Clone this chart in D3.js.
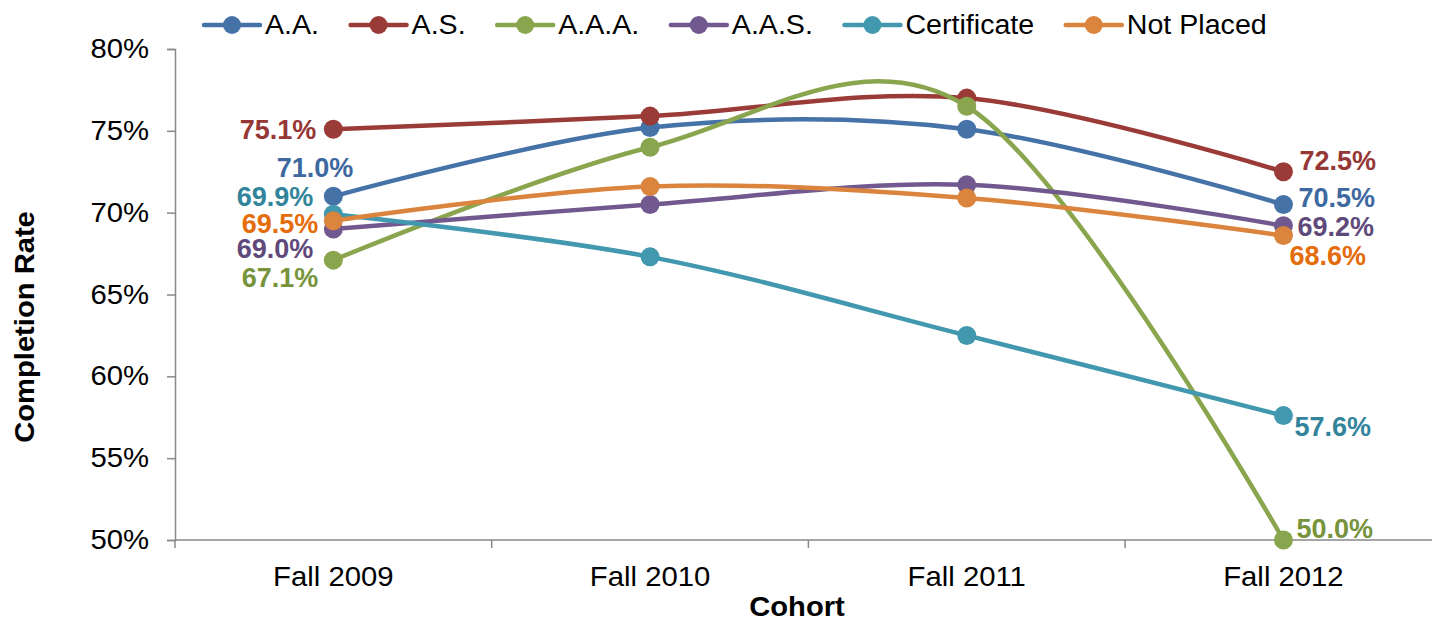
<!DOCTYPE html>
<html>
<head>
<meta charset="utf-8">
<script src="https://cdn.jsdelivr.net/npm/d3@7"></script>
<style>
  body { margin: 0; background: #fff; }
  text { font-family: Arial, "Liberation Sans", sans-serif; }
</style>
</head>
<body>
<div id="chart"></div>
<script>
// data
const cohorts = ['Fall 2009', 'Fall 2010', 'Fall 2011', 'Fall 2012'];
const seriesNames = ['A.A.', 'A.S.', 'A.A.A.', 'A.A.S.', 'Certificate', 'Not Placed'];
const aa = [71.0, 75.2, 75.1, 70.5];
const as = [75.1, 75.9, 77.0, 72.5];
const aaa = [67.1, 74.0, 76.5, 50.0];
const aas = [69.0, 70.5, 71.7, 69.2];
const certificate = [69.9, 67.3, 62.5, 57.6];
const notPlaced = [69.5, 71.6, 70.9, 68.6];
const yTicks = [50, 55, 60, 65, 70, 75, 80];

const values = [aa, as, aaa, aas, certificate, notPlaced];
const lineColors = ['#4572A7', '#9A3B38', '#89A54E', '#71588F', '#4198AF', '#DB843D'];
const labelColors = ['#3D68A0', '#953735', '#77933C', '#5F497A', '#31849B', '#E46C0A'];

// label offsets for first / last point [dx, dy, anchor]
const firstLab = [[20, -29, 'end'], [-17, 0, 'end'], [-15, 17, 'end'], [-20, 19, 'end'], [-20, -18, 'end'], [-15, 2, 'end']];
const lastLab = [[15, -7, 'start'], [16, -11, 'start'], [13, -12, 'start'], [14, 1, 'start'], [11, 11, 'start'], [6, 20, 'start']];

const W = 1432, H = 621;
const m = { left: 175, top: 49, bottom: 81 };
const band = 316.7;
const k = 1.085; // text in the original is a bit wider than Arial

const svg = d3.select('#chart').append('svg')
  .attr('width', W).attr('height', H);

// widen a text horizontally around its anchor x
function stretch(sel, f) {
  sel.each(function () {
    const t = d3.select(this);
    const x0 = +t.attr('x') || 0;
    const prev = t.attr('transform') || '';
    t.attr('transform', `${prev} translate(${x0},0) scale(${f},1) translate(${-x0},0)`);
  });
}

const x = d3.scaleBand().domain(cohorts).range([m.left, m.left + band * cohorts.length]);
const y = d3.scaleLinear().domain([50, 80]).range([H - m.bottom, m.top]);
const cx = d => x(d) + x.bandwidth() / 2;
const axisColor = '#898989';

// y axis
const yAxis = svg.append('g')
  .attr('transform', `translate(${m.left},0)`)
  .call(d3.axisLeft(y).tickValues(yTicks).tickFormat(d => d + '%').tickSize(8).tickPadding(18));
yAxis.select('.domain').attr('stroke', axisColor).attr('stroke-width', 1.5);
yAxis.selectAll('.tick line').attr('stroke', axisColor).attr('stroke-width', 1.5);
yAxis.selectAll('.tick text').attr('fill', '#000').style('font-size', '27px')
  .style('font-family', 'Arial, "Liberation Sans", sans-serif')
  .call(stretch, k);

// x axis
const xg = svg.append('g').attr('transform', `translate(0,${y(50)})`);
xg.append('line').attr('x1', m.left).attr('x2', W).attr('stroke', axisColor).attr('stroke-width', 1.5);
xg.selectAll('.xt').data(cohorts).enter().append('line')
  .attr('x1', d => x(d)).attr('x2', d => x(d)).attr('y1', 0).attr('y2', 8)
  .attr('stroke', axisColor).attr('stroke-width', 1.5);
xg.selectAll('.xl').data(cohorts).enter().append('text')
  .attr('x', cx).attr('y', 46).attr('text-anchor', 'middle')
  .style('font-size', '27px').text(d => d)
  .call(stretch, k);

// axis titles
svg.append('text')
  .attr('transform', `translate(34,327) rotate(-90)`)
  .attr('text-anchor', 'middle').style('font-size', '27px').style('font-weight', 'bold')
  .text('Completion Rate')
  .call(stretch, 1.08);
svg.append('text')
  .attr('x', 797).attr('y', 616).attr('text-anchor', 'middle')
  .style('font-size', '27px').style('font-weight', 'bold').text('Cohort')
  .call(stretch, 1.08);

// lines
const line = d3.line()
  .x((d, i) => cx(cohorts[i]))
  .y(d => y(d))
  .curve(d3.curveCardinal.tension(0));

seriesNames.forEach((name, s) => {
  const g = svg.append('g').attr('class', 'series');
  g.append('path').datum(values[s])
    .attr('d', line).attr('fill', 'none')
    .attr('stroke', lineColors[s]).attr('stroke-width', 4.5)
    .attr('stroke-linecap', 'round');
  g.selectAll('circle').data(values[s]).enter().append('circle')
    .attr('cx', (d, i) => cx(cohorts[i])).attr('cy', d => y(d)).attr('r', 9.5)
    .attr('fill', lineColors[s]);
});

// data labels
seriesNames.forEach((name, s) => {
  const v = values[s];
  [[0, firstLab[s]], [v.length - 1, lastLab[s]]].forEach(([i, o]) => {
    svg.append('text')
      .attr('x', cx(cohorts[i]) + o[0])
      .attr('y', y(v[i]) + o[1])
      .attr('dy', '0.36em')
      .attr('text-anchor', o[2])
      .attr('fill', labelColors[s])
      .style('font-size', '27px').style('font-weight', 'bold')
      .text(v[i].toFixed(1) + '%');
  });
});

// legend
const legend = svg.append('g').attr('transform', 'translate(0,25)');
let lx = 204;
seriesNames.forEach((name, s) => {
  const it = legend.append('g').attr('transform', `translate(${lx},0)`);
  it.append('line').attr('x1', 0).attr('x2', 56)
    .attr('stroke', lineColors[s]).attr('stroke-width', 4.5).attr('stroke-linecap', 'round');
  it.append('circle').attr('cx', 28).attr('r', 9).attr('fill', lineColors[s]);
  const t = it.append('text').attr('x', 61).attr('y', -1).attr('dy', '0.36em')
    .style('font-size', '27px').text(name);
  const wdt = t.node().getComputedTextLength() * 1.06;
  t.call(stretch, 1.06);
  lx += 61 + wdt + 31.5;
});
</script>
</body>
</html>
